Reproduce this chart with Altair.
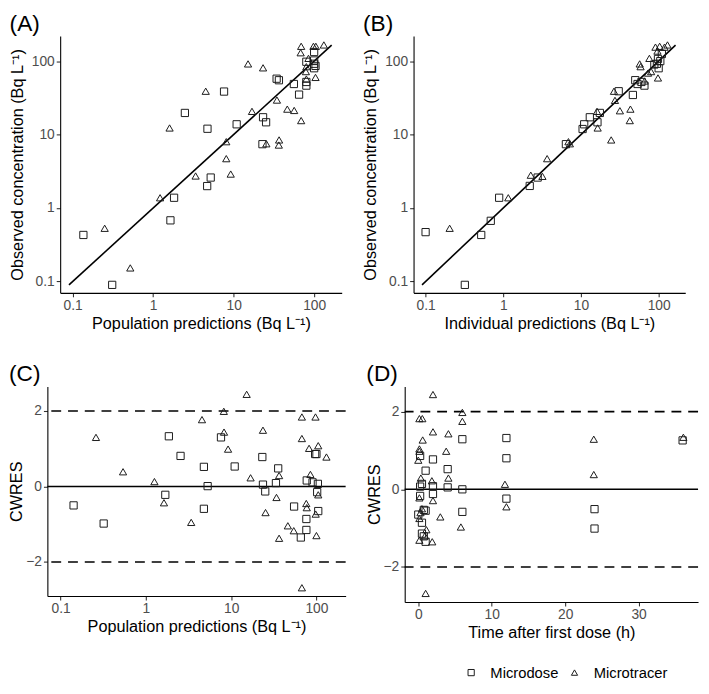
import altair as alt
import pandas as pd

groups = ["Microdose", "Microtracer"]
FONT = "Liberation Sans"

# (A) population predictions vs observed
a_sq_pred = [0.136, 0.31, 1.64, 1.82, 2.48, 4.73, 4.69, 5.19, 7.6, 10.9, 22.8, 23.2, 25.3,
             34.2, 36.5, 56, 65, 80, 80, 80, 100, 100, 100, 100, 104]
a_sq_obs = [0.43, 0.09, 0.68, 1.38, 19.7, 12.0, 1.99, 2.6, 38.5, 13.8, 7.4, 17.2, 14.7,
            57.6, 54.9, 48.8, 35, 52, 46.4, 98, 133, 102, 92, 80, 86]
a_tri_pred = [0.25, 0.52, 1.22, 1.6, 3.37, 4.5, 8.1, 8.1, 9.2, 15.1, 16.9, 23.2, 25.5, 34.5,
              36.7, 36.4, 46.4, 56.5, 69, 69, 68, 79, 85, 80, 80, 98, 105, 104, 132]
a_tri_obs = [0.53, 0.153, 1.38, 12.3, 2.73, 38.9, 8.0, 4.7, 2.9, 91.6, 20.7, 81, 7.5, 29.5,
             8.45, 7.2, 22.2, 21.3, 15.5, 159, 130, 72, 109, 84, 57, 159, 159, 60, 166]

# (B) individual predictions vs observed
b_sq_ipred = [0.10, 0.32, 0.52, 0.69, 0.885, 2.19, 2.77, 6.4, 10.5, 11.0, 13.0, 16.3, 17.5,
              30.6, 46.6, 50, 53.5, 65.6, 60, 88, 95, 98, 100, 105, 110]
b_sq_obs = [0.47, 0.09, 0.43, 0.67, 1.38, 2.0, 2.6, 7.4, 11.9, 13.8, 17.2, 14.7, 19.7,
            38.9, 34.6, 55, 48.8, 46.4, 52, 90, 92, 107, 80, 100, 125]
b_tri_ipred = [0.204, 1.16, 2.26, 3.19, 3.67, 6.9, 7.2, 16.1, 16.4, 24.5, 26.6, 27.4, 31.7,
               43.3, 42.5, 57, 58.5, 73, 66, 98, 76, 91, 103, 119, 130, 96.5, 80]
b_tri_obs = [0.53, 1.38, 2.8, 2.7, 4.7, 8.0, 7.5, 20.7, 12.3, 8.45, 38.9, 29.2, 21.1,
             22.2, 15.5, 91.6, 84, 68.7, 53.6, 59, 109, 155, 159, 155, 166, 137, 72]

# (C) population predictions vs CWRES
c_sq_pred = [0.142, 0.32, 1.69, 1.86, 2.55, 4.79, 4.79, 5.3, 7.6, 11, 23.2, 23.6, 25.1,
             35.6, 33.5, 54.7, 65.6, 76.2, 76.2, 77, 90, 96.5, 100, 104, 105, 102]
c_sq_cwres = [-0.50, -0.98, -0.22, 1.33, 0.81, 0.52, -0.59, 0.01, 1.30, 0.53, 0.78, 0.05, -0.13,
              0.48, 0.09, -0.53, -1.35, -1.15, -0.86, 0.16, 0.11, 0.86, 0.86, 0.07, -0.65, -0.15]
c_tri_pred = [0.26, 0.54, 1.26, 1.63, 3.4, 4.55, 8.2, 8.25, 9.2, 15.2, 16.9, 23.6, 25.3, 34,
              36.5, 36.5, 46.2, 54.2, 67.5, 67.5, 67.5, 76, 77, 82, 85, 97.5, 98, 100, 105, 105, 131]
c_tri_cwres = [1.30, 0.39, 0.13, -0.43, -0.95, 1.77, 1.99, 1.44, 0.99, 2.44, 0.23, 1.49, -0.69, -0.29,
               0.29, -1.37, -1.04, -1.17, 1.84, 1.27, -2.68, -0.45, -0.56, 1.01, 0.32, 1.84, -0.73,
               -1.30, 1.08, -0.22, 0.78]

# (D) time after first dose vs CWRES
d_sq_time = [6, 0.25, 2, 1, 4, 0.5, 2, 0.25, 4, 6, 0.25, 2, 0.75, 0, 6, 0.5, 0.5, 0.75, 1,
             12, 12, 12, 24, 24, 36, 1]
d_sq_cwres = [1.29, 0.86, 0.77, 0.48, 0.52, 0.14, 0.08, 0.07, 0.05, 0.0, -0.17, -0.12, -0.53,
              -0.65, -0.58, -0.86, -1.14, -1.21, -1.35, 1.32, 0.80, -0.24, -0.51, -1.01, 1.26, -0.55]
d_tri_time = [2, 0.15, 0.55, 6, 6, 2, 4.1, 0.6, 0.15, 0.15, 0, 3.8, 4.1, 0.35, 1.85, 0.15, 2,
              0.5, 0.3, 3, 0.15, 1.1, 5.8, 0.15, 1.9, 1, 11.8, 12, 23.9, 23.9, 36.1, 0.9]
d_tri_cwres = [2.44, 1.82, 1.82, 1.98, 1.75, 1.48, 1.43, 1.27, 1.04, 0.98, 0.75, 0.98, 0.29, 0.29,
               0.22, -0.22, -0.29, -0.5, -0.6, -0.71, -0.75, -1.04, -0.97, -1.31, -1.35, -2.68,
               0.13, -0.45, 1.29, 0.38, 1.34, -1.2]

identity = [0.09, 165]
zero_line = [0]
limits = [-2, 2]


def frame(xs_sq, ys_sq, xs_tri, ys_tri):
    return pd.DataFrame({
        "x": xs_sq + xs_tri,
        "y": ys_sq + ys_tri,
        "group": [groups[0]] * len(xs_sq) + [groups[1]] * len(xs_tri),
    })


log_scale = alt.Scale(type="log", domain=[0.07, 220], nice=False)
res_scale = alt.Scale(domain=[-2.9, 2.65], nice=False, zero=False)
shape_scale = alt.Scale(domain=groups, range=["square", "triangle-up"])


def log_axis(title, **kw):
    return alt.Axis(title=title, values=[0.1, 1, 10, 100], format="~g", **kw)


def panel(label, df, xenc, yenc, refs, w, h, legend=None):
    pts = alt.Chart(df).mark_point(filled=False, color="#1a1a1a", size=54,
                                   strokeWidth=1, opacity=1).encode(
        x=xenc, y=yenc,
        shape=alt.Shape("group:N", scale=shape_scale, legend=legend),
    )
    return alt.layer(*refs, pts).properties(
        width=w, height=h,
        title=alt.TitleParams(label, anchor="start", frame="bounds", fontSize=23,
                              font=FONT, fontWeight="normal", color="black", offset=0),
    )


# empty cell used to keep the rows from sharing a left edge
def gap(w):
    return alt.Chart(pd.DataFrame({"v": [0]})).mark_point(size=0, opacity=0).encode(
        x=alt.value(0), y=alt.value(0)
    ).properties(width=w, height=1)


# top row
obs_y = alt.Y("y:Q", scale=log_scale,
              axis=log_axis("Observed concentration (Bq L\u207b\u00b9)", titlePadding=6))
line_df = pd.DataFrame({"x": identity, "y": identity})

xa = alt.X("x:Q", scale=log_scale, axis=log_axis("Population predictions (Bq L\u207b\u00b9)"))
xb = alt.X("x:Q", scale=log_scale, axis=log_axis("Individual predictions (Bq L\u207b\u00b9)"))

chart_a = panel("(A)", frame(a_sq_pred, a_sq_obs, a_tri_pred, a_tri_obs), xa, obs_y,
                [alt.Chart(line_df).mark_line(color="black", strokeWidth=1.6).encode(x=xa, y=obs_y)],
                286, 261)
chart_b = panel("(B)", frame(b_sq_ipred, b_sq_obs, b_tri_ipred, b_tri_obs), xb, obs_y,
                [alt.Chart(line_df).mark_line(color="black", strokeWidth=1.6).encode(x=xb, y=obs_y)],
                276, 261)

# bottom row
res_y = alt.Y("y:Q", scale=res_scale,
              axis=alt.Axis(title="CWRES", values=[-2, 0, 2], format="d", titlePadding=1))
xc = alt.X("x:Q", scale=log_scale, axis=log_axis("Population predictions (Bq L\u207b\u00b9)"))
xd = alt.X("x:Q", scale=alt.Scale(domain=[-1.85, 38.1], nice=False, zero=False),
           axis=alt.Axis(title="Time after first dose (h)", values=[0, 10, 20, 30]))


def res_refs():
    zero = alt.Chart(pd.DataFrame({"y": zero_line})).mark_rule(
        color="black", strokeWidth=1.6).encode(y=res_y)
    dash = alt.Chart(pd.DataFrame({"y": limits})).mark_rule(
        color="black", strokeWidth=1.6, strokeDash=[10, 7]).encode(y=res_y)
    return [dash, zero]


legend = alt.Legend(title=None, orient="none", legendX=60, legendY=283, direction="horizontal",
                    labelFont=FONT, labelFontSize=15, labelColor="black", symbolSize=40,
                    symbolStrokeWidth=1, symbolStrokeColor="#1a1a1a",
                    symbolFillColor="transparent", labelOffset=12, columnPadding=8)

chart_c = panel("(C)", frame(c_sq_pred, c_sq_cwres, c_tri_pred, c_tri_cwres), xc, res_y,
                res_refs(), 303, 213)
chart_d = panel("(D)", frame(d_sq_time, d_sq_cwres, d_tri_time, d_tri_cwres), xd, res_y,
                res_refs(), 298, 219, legend=legend)

top = alt.hconcat(gap(1), chart_a, gap(21), chart_b, spacing=0).resolve_scale(shape="independent")
bottom = alt.hconcat(gap(1), chart_c, gap(20), chart_d, spacing=0).resolve_scale(shape="independent")

chart = alt.vconcat(top, bottom, spacing=32).properties(
    padding={"left": 0, "top": 0, "right": 2, "bottom": 2},
).resolve_scale(
    shape="independent"
).configure_view(
    stroke=None
).configure_axis(
    grid=False, domainColor="black", domainWidth=1.1, tickColor="#333333", tickWidth=1.1,
    tickSize=4, labelColor="#4d4d4d", labelFontSize=14, labelFont=FONT, labelPadding=2,
    titleFont=FONT, titleFontSize=16.5, titleFontWeight="normal", titleColor="black",
    titlePadding=3,
)

chart.save("out.html", embed_options={"renderer": "svg", "actions": False})
